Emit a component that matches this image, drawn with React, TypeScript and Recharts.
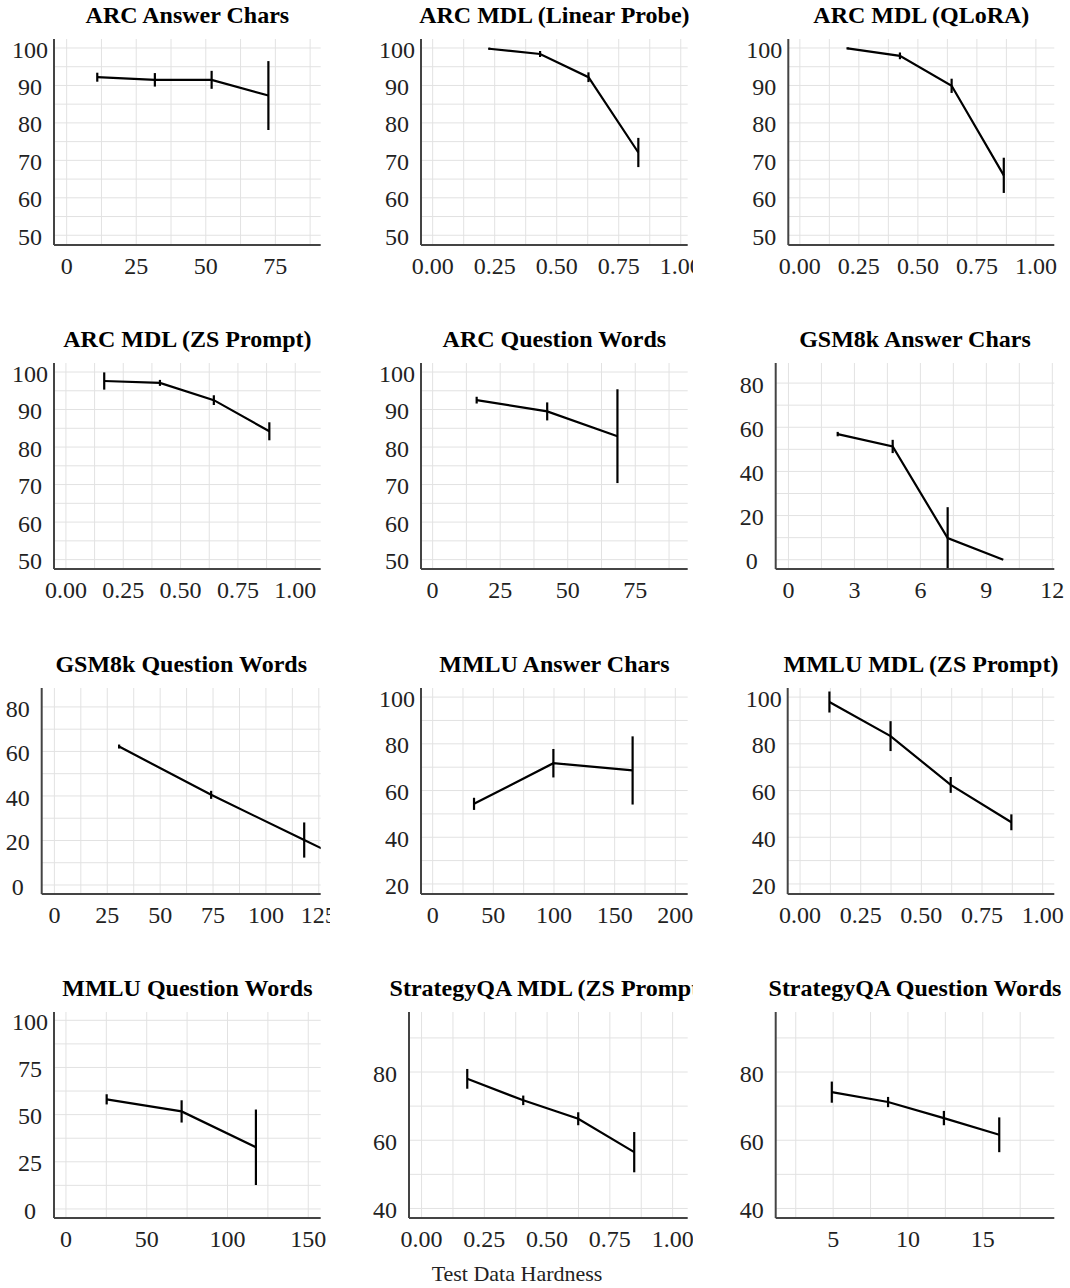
import React from "react";
import { CartesianGrid, ErrorBar, Line, LineChart, XAxis, YAxis } from "recharts";

const FONT = '"Liberation Serif", "Times New Roman", serif';

// ---- data ----
const arcAnsX = [11.0, 31.7, 52.1, 72.5];
const arcAnsY = [92.2, 91.5, 91.5, 87.3];
const arcAnsErr = [1.2, 1.8, 2.4, 9.2];

const arcLinX = [0.228, 0.433, 0.628, 0.829];
const arcLinY = [99.8, 98.4, 92.2, 72.1];
const arcLinErr = [0.3, 0.8, 1.3, 3.9];

const arcQloraX = [0.202, 0.424, 0.643, 0.864];
const arcQloraY = [99.9, 97.9, 89.9, 66.0];
const arcQloraErr = [0.3, 0.9, 1.9, 4.7];

const arcZsX = [0.167, 0.41, 0.645, 0.887];
const arcZsY = [97.6, 97.1, 92.5, 84.2];
const arcZsErr = [2.3, 0.8, 1.3, 2.4];

const arcQwX = [16.3, 42.4, 68.4];
const arcQwY = [92.5, 89.5, 82.9];
const arcQwErr = [0.9, 2.4, 12.5];

const gsmAnsX = [2.24, 4.74, 7.24, 9.77];
const gsmAnsY = [56.9, 51.3, 9.8, 0];
const gsmAnsErr = [1, 3, 14, 0];

const gsmQwX = [30.6, 74.1, 118.1, 161];
const gsmQwY = [62.2, 40.5, 20.2, 0.5];
const gsmQwErr = [0.9, 1.8, 7.9, 0];

const mmluAnsX = [34.1, 99.5, 164.8];
const mmluAnsY = [54.3, 71.7, 68.6];
const mmluAnsErr = [2.6, 6.1, 14.6];

const mmluZsX = [0.121, 0.373, 0.621, 0.871];
const mmluZsY = [97.9, 83.3, 62.4, 46.4];
const mmluZsErr = [4.5, 6.4, 3.4, 3.4];

const mmluQwX = [25.2, 71.6, 117.6];
const mmluQwY = [58.1, 51.7, 32.7];
const mmluQwErr = [2.7, 5.9, 20];

const sqaZsX = [0.182, 0.405, 0.624, 0.847];
const sqaZsY = [78.0, 71.7, 66.3, 56.5];
const sqaZsErr = [2.9, 1.4, 1.9, 5.9];

const sqaQwX = [4.91, 8.67, 12.4, 16.1];
const sqaQwY = [74.1, 71.2, 66.5, 61.6];
const sqaQwErr = [3.1, 1.5, 2.1, 5.1];

// ---- ticks ----
const yTicksArc = [50, 60, 70, 80, 90, 100];
const yTicksGsm = [0, 20, 40, 60, 80];
const yTicksMmlu = [20, 40, 60, 80, 100];
const yTicksMmluQw = [0, 25, 50, 75, 100];
const yTicksSqa = [40, 60, 80];
const xTicksFrac = [0, 0.25, 0.5, 0.75, 1];
const xTicks0to75 = [0, 25, 50, 75];
const xTicksGsmAns = [0, 3, 6, 9, 12];
const xTicksGsmQw = [0, 25, 50, 75, 100, 125];
const xTicksMmluAns = [0, 50, 100, 150, 200];
const xTicksMmluQw = [0, 50, 100, 150];
const xTicksSqaQw = [5, 10, 15];

const steps = (a: number, b: number, s: number) => {
  const out: number[] = [];
  for (let v = a; v <= b + 1e-9; v += s) out.push(+v.toFixed(4));
  return out;
};

const zip = (xs: number[], ys: number[], es: number[]) =>
  xs.map((x, i) => ({ x, y: ys[i], e: es[i] }));

const fmt2 = (v: number) => v.toFixed(2);
const fmt0 = (v: number) => String(v);

// layout
const ROW_TOP = [39.3, 363.3, 687.7, 1011.7];
const PLOT_H = 206;
const PLOT_R = [320.7, 687.7, 1054.3];
const CELL_L = [0, 367, 734];
const CELL_R = [330, 693, 1070];
const MT = 6;
const XH = 44;
const YW = 30;

type P = {
  title: string;
  data: { x: number; y: number; e: number }[];
  left: number;
  xDomain: [number, number];
  yDomain: [number, number];
  xTicks: number[];
  yTicks: number[];
  xGrid: number[];
  yGrid: number[];
  xFmt: (v: number) => string;
};

const panels: P[] = [
  { title: "ARC Answer Chars", data: zip(arcAnsX, arcAnsY, arcAnsErr), left: 54, xDomain: [-4.55, 91.3], yDomain: [47.4, 102.4], xTicks: xTicks0to75, yTicks: yTicksArc, xGrid: steps(0, 87.5, 12.5), yGrid: steps(50, 100, 5), xFmt: fmt0 },
  { title: "ARC MDL (Linear Probe)", data: zip(arcLinX, arcLinY, arcLinErr), left: 421, xDomain: [-0.047, 1.028], yDomain: [47.4, 102.4], xTicks: xTicksFrac, yTicks: yTicksArc, xGrid: steps(0, 1, 0.125), yGrid: steps(50, 100, 5), xFmt: fmt2 },
  { title: "ARC MDL (QLoRA)", data: zip(arcQloraX, arcQloraY, arcQloraErr), left: 788.3, xDomain: [-0.049, 1.078], yDomain: [47.4, 102.4], xTicks: xTicksFrac, yTicks: yTicksArc, xGrid: steps(0, 1, 0.125), yGrid: steps(50, 100, 5), xFmt: fmt2 },
  { title: "ARC MDL (ZS Prompt)", data: zip(arcZsX, arcZsY, arcZsErr), left: 54, xDomain: [-0.052, 1.111], yDomain: [47.5, 102.4], xTicks: xTicksFrac, yTicks: yTicksArc, xGrid: steps(0, 1, 0.125), yGrid: steps(50, 100, 5), xFmt: fmt2 },
  { title: "ARC Question Words", data: zip(arcQwX, arcQwY, arcQwErr), left: 421, xDomain: [-4.3, 94.4], yDomain: [47.5, 102.4], xTicks: xTicks0to75, yTicks: yTicksArc, xGrid: steps(0, 87.5, 12.5), yGrid: steps(50, 100, 5), xFmt: fmt0 },
  { title: "GSM8k Answer Chars", data: zip(gsmAnsX, gsmAnsY, gsmAnsErr), left: 775.7, xDomain: [-0.58, 12.09], yDomain: [-4.2, 89.1], xTicks: xTicksGsmAns, yTicks: yTicksGsm, xGrid: steps(0, 12, 1.5), yGrid: steps(0, 80, 10), xFmt: fmt0 },
  { title: "GSM8k Question Words", data: zip(gsmQwX, gsmQwY, gsmQwErr), left: 41.7, xDomain: [-6.0, 125.9], yDomain: [-4.05, 88.5], xTicks: xTicksGsmQw, yTicks: yTicksGsm, xGrid: steps(0, 125, 12.5), yGrid: steps(0, 80, 10), xFmt: fmt0 },
  { title: "MMLU Answer Chars", data: zip(mmluAnsX, mmluAnsY, mmluAnsErr), left: 421, xDomain: [-9.6, 210.2], yDomain: [15.7, 103.9], xTicks: xTicksMmluAns, yTicks: yTicksMmlu, xGrid: steps(0, 200, 25), yGrid: steps(20, 100, 10), xFmt: fmt0 },
  { title: "MMLU MDL (ZS Prompt)", data: zip(mmluZsX, mmluZsY, mmluZsErr), left: 787.7, xDomain: [-0.051, 1.048], yDomain: [15.7, 103.9], xTicks: xTicksFrac, yTicks: yTicksMmlu, xGrid: steps(0, 1, 0.125), yGrid: steps(20, 100, 10), xFmt: fmt2 },
  { title: "MMLU Question Words", data: zip(mmluQwX, mmluQwY, mmluQwErr), left: 54, xDomain: [-7.4, 157.7], yDomain: [-4.8, 104.4], xTicks: xTicksMmluQw, yTicks: yTicksMmluQw, xGrid: steps(0, 150, 25), yGrid: steps(0, 100, 12.5), xFmt: fmt0 },
  { title: "StrategyQA MDL (ZS Prompt)", data: zip(sqaZsX, sqaZsY, sqaZsErr), left: 409, xDomain: [-0.05, 1.06], yDomain: [37.2, 97.6], xTicks: xTicksFrac, yTicks: yTicksSqa, xGrid: steps(0, 1, 0.125), yGrid: steps(40, 90, 10), xFmt: fmt2 },
  { title: "StrategyQA Question Words", data: zip(sqaQwX, sqaQwY, sqaQwErr), left: 775.7, xDomain: [1.16, 19.78], yDomain: [37.2, 97.6], xTicks: xTicksSqaQw, yTicks: yTicksSqa, xGrid: steps(2.5, 17.5, 2.5), yGrid: steps(40, 90, 10), xFmt: fmt0 },
];

const tickStyle = { fill: "#222", fontSize: 24, fontFamily: FONT };

function Panel({ p, i }: { p: P; i: number }) {
  const row = Math.floor(i / 3);
  const col = i % 3;
  const top = ROW_TOP[row];
  const cellL = CELL_L[col];
  const cellR = CELL_R[col];
  const W = cellR - cellL;
  const center = (p.left + PLOT_R[col]) / 2;
  const pad = 50;

  const XTick = (t: any) => (
    <text x={t.x} y={t.y} dy="0.38em" textAnchor="middle" {...tickStyle}>
      {p.xFmt(t.payload.value)}
    </text>
  );
  const YTick = (t: any) => (
    <text x={t.x} y={t.y} dy="0.4em" textAnchor="middle" {...tickStyle}>
      {fmt0(t.payload.value)}
    </text>
  );

  return (
    <div
      style={{
        position: "absolute",
        left: cellL,
        top: top - pad,
        width: W,
        height: pad + PLOT_H + XH,
        overflow: "hidden",
      }}
    >
      <div
        style={{
          position: "absolute",
          left: center - cellL - 300,
          width: 600,
          top: pad - 36,
          textAlign: "center",
          fontWeight: "bold",
          fontSize: 24,
          lineHeight: "24px",
          whiteSpace: "nowrap",
          color: "#000",
        }}
      >
        {p.title}
      </div>
      <div style={{ position: "absolute", left: 0, top: pad - MT }}>
        <LineChart
          width={W}
          height={MT + PLOT_H + XH}
          data={p.data}
          margin={{ top: MT, right: cellR - PLOT_R[col], bottom: 0, left: p.left - cellL - YW }}
        >
          <CartesianGrid
            stroke="#e2e2e2"
            strokeWidth={1}
            horizontalValues={p.yGrid}
            verticalValues={p.xGrid}
          />
          <XAxis
            type="number"
            dataKey="x"
            domain={p.xDomain}
            allowDataOverflow
            ticks={p.xTicks}
            interval={0}
            height={XH}
            tickSize={0}
            tickMargin={19.5}
            tickLine={false}
            axisLine={{ stroke: "#444", strokeWidth: 2 }}
            tick={XTick}
          />
          <YAxis
            type="number"
            domain={p.yDomain}
            allowDataOverflow
            ticks={p.yTicks}
            interval={0}
            width={YW}
            tickSize={0}
            tickMargin={24}
            tickLine={false}
            axisLine={{ stroke: "#444", strokeWidth: 2 }}
            tick={YTick}
          />
          <Line
            type="linear"
            dataKey="y"
            stroke="#000"
            strokeWidth={2.2}
            dot={false}
            isAnimationActive={false}
          >
            <ErrorBar dataKey="e" width={0} stroke="#000" strokeWidth={2.2} direction="y" isAnimationActive={false} />
          </Line>
        </LineChart>
      </div>
    </div>
  );
}

export default function App() {
  return (
    <div
      style={{
        position: "absolute",
        left: 0,
        top: 0,
        width: 1070,
        height: 1288,
        background: "#fff",
        fontFamily: FONT,
        overflow: "hidden",
      }}
    >
      {panels.map((p, i) => (
        <Panel key={p.title} p={p} i={i} />
      ))}
      <div
        style={{
          position: "absolute",
          left: 317,
          width: 400,
          top: 1263,
          textAlign: "center",
          fontSize: 22,
          lineHeight: "22px",
          color: "#222",
        }}
      >
        Test Data Hardness
      </div>
    </div>
  );
}
